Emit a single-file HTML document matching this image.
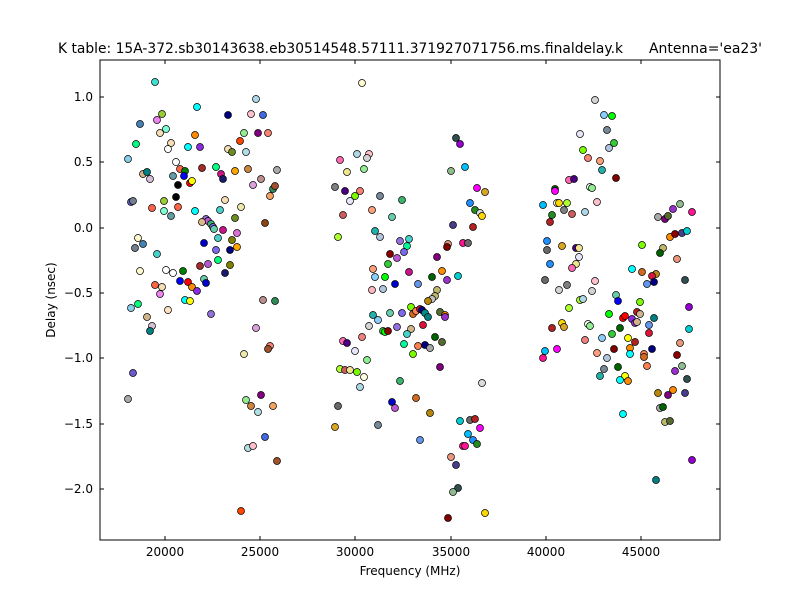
<!DOCTYPE html>
<html><head><meta charset="utf-8"><style>
html,body{margin:0;padding:0;background:#fff;}
svg{display:block;font-family:"DejaVu Sans","Liberation Sans",sans-serif;}
</style></head><body>
<svg id="s" width="800" height="600" xmlns="http://www.w3.org/2000/svg">
<rect width="800" height="600" fill="#fff"/>
<g id="pts"></g>
<rect x="100" y="60" width="620" height="480" fill="none" stroke="#000" stroke-width="1"/>
<g stroke="#000" stroke-width="1" id="ticks"></g>
<g font-size="12" fill="#000">
<text x="165" y="556" text-anchor="middle">20000</text>
<text x="260" y="556" text-anchor="middle">25000</text>
<text x="355" y="556" text-anchor="middle">30000</text>
<text x="451" y="556" text-anchor="middle">35000</text>
<text x="546" y="556" text-anchor="middle">40000</text>
<text x="641" y="556" text-anchor="middle">45000</text>
<text x="93" y="101" text-anchor="end">1.0</text>
<text x="93" y="166" text-anchor="end">0.5</text>
<text x="93" y="232" text-anchor="end">0.0</text>
<text x="93" y="297" text-anchor="end">−0.5</text>
<text x="93" y="362" text-anchor="end">−1.0</text>
<text x="93" y="428" text-anchor="end">−1.5</text>
<text x="93" y="493" text-anchor="end">−2.0</text>
<text x="410" y="575" text-anchor="middle">Frequency (MHz)</text>
<text transform="translate(55,300) rotate(-90)" text-anchor="middle">Delay (nsec)</text>
</g>
<text x="58" y="53" font-size="14" textLength="565" lengthAdjust="spacingAndGlyphs">K table: 15A-372.sb30143638.eb30514548.57111.371927071756.ms.finaldelay.k</text>
<text x="649" y="53" font-size="14" textLength="113" lengthAdjust="spacingAndGlyphs">Antenna='ea23'</text>
</svg>
<script>
var P=[
[155,82,"turquoise"],[197,107,"cyan"],[162,114,"yellowgreen"],[157,120,"violet"],[140,124,"steelblue"],[166,129,"aquamarine"],[160,133,"wheat"],[136,144,"springgreen"],[171,143,"wheat"],[168,149,"white"],[188,147,"cyan"],[200,147,"blueviolet"],[195,135,"darkorange"],[228,115,"navy"],[256,99,"lightblue"],[251,114,"pink"],[263,115,"royalblue"],[244,133,"lightgreen"],[258,133,"purple"],[268,133,"salmon"],[240,141,"orangered"],[228,149,"wheat"],[232,152,"olivedrab"],[246,152,"powderblue"],[128,159,"skyblue"],[176,162,"white"],[180,169,"tomato"],[185,171,"green"],[202,168,"brown"],[216,167,"springgreen"],[221,174,"mediumvioletred"],[223,179,"midnightblue"],[235,171,"orange"],[248,169,"peru"],[277,170,"darkgray"],[261,179,"rosybrown"],[253,185,"plum"],[273,189,"seagreen"],[275,186,"sienna"],[270,196,"sandybrown"],[143,174,"tan"],[147,172,"teal"],[150,179,"thistle"],[173,176,"cadetblue"],[184,176,"blue"],[190,183,"red"],[192,181,"yellow"],[178,185,"black"],[176,197,"black"],[178,207,"tomato"],[131,202,"slateblue"],[133,201,"slategray"],[152,208,"tomato"],[164,201,"yellowgreen"],[164,211,"aquamarine"],[171,216,"cadetblue"],[195,211,"cyan"],[220,210,"mediumturquoise"],[225,200,"wheat"],[241,207,"palegoldenrod"],[235,218,"olivedrab"],[265,223,"saddlebrown"],[206,219,"mediumpurple"],[208,221,"mediumorchid"],[202,222,"burlywood"],[211,224,"mediumseagreen"],[213,227,"mediumslateblue"],[214,229,"mediumaquamarine"],[223,230,"mediumvioletred"],[237,233,"orchid"],[218,238,"mediumturquoise"],[232,240,"olive"],[230,250,"navy"],[237,247,"orange"],[204,243,"mediumblue"],[216,250,"mediumslateblue"],[138,238,"lemonchiffon"],[143,244,"steelblue"],[135,248,"slategray"],[157,254,"mediumturquoise"],[140,271,"lemonchiffon"],[166,270,"white"],[173,273,"white"],[183,271,"green"],[200,266,"brown"],[208,264,"mediumorchid"],[218,260,"springgreen"],[230,265,"olive"],[225,273,"midnightblue"],[155,285,"tomato"],[162,287,"wheat"],[160,294,"violet"],[180,281,"blue"],[188,282,"red"],[192,287,"darkorange"],[197,291,"blueviolet"],[204,279,"mediumaquamarine"],[206,283,"mediumblue"],[185,300,"cyan"],[190,301,"yellow"],[131,308,"skyblue"],[138,304,"springgreen"],[168,310,"bisque"],[147,317,"tan"],[152,326,"thistle"],[150,331,"teal"],[211,314,"mediumpurple"],[263,300,"rosybrown"],[275,301,"seagreen"],[256,328,"plum"],[270,346,"salmon"],[268,349,"sienna"],[244,354,"palegoldenrod"],[133,373,"slateblue"],[128,399,"darkgray"],[261,395,"purple"],[246,400,"lightgreen"],[251,406,"peru"],[258,412,"powderblue"],[273,406,"sandybrown"],[265,437,"royalblue"],[248,448,"powderblue"],[253,446,"pink"],[277,461,"sienna"],[241,511,"orangered"],
[362,83,"lemonchiffon"],[456,138,"darkslategray"],[460,144,"darkviolet"],[340,160,"hotpink"],[357,154,"lightblue"],[369,154,"pink"],[367,158,"lightgray"],[347,172,"khaki"],[364,169,"lightgreen"],[451,171,"darkseagreen"],[465,167,"deepskyblue"],[335,187,"gray"],[345,191,"indigo"],[360,191,"salmon"],[355,196,"lawngreen"],[350,201,"lavender"],[380,196,"lightslategray"],[402,200,"mediumseagreen"],[477,188,"magenta"],[485,192,"goldenrod"],[343,215,"indianred"],[372,210,"lightsalmon"],[392,217,"mediumaquamarine"],[470,203,"dodgerblue"],[475,210,"forestgreen"],[480,213,"gainsboro"],[482,216,"gold"],[338,237,"greenyellow"],[375,231,"lightseagreen"],[380,237,"lightsteelblue"],[453,225,"darkslateblue"],[473,227,"firebrick"],[400,241,"mediumpurple"],[409,239,"mediumturquoise"],[407,246,"mediumspringgreen"],[404,252,"mediumslateblue"],[397,258,"mediumorchid"],[390,254,"darkred"],[388,264,"limegreen"],[437,257,"purple"],[448,244,"darksalmon"],[447,247,"maroon"],[463,243,"deeppink"],[468,243,"dimgray"],[373,269,"lightsalmon"],[375,277,"lightskyblue"],[385,277,"lime"],[395,284,"mediumblue"],[409,272,"mediumvioletred"],[418,284,"cornflowerblue"],[432,277,"darkgreen"],[442,271,"darkorange"],[447,280,"darkorchid"],[458,276,"darkturquoise"],[372,290,"lightpink"],[383,289,"lightsteelblue"],[437,290,"darkkhaki"],[435,296,"darkkhaki"],[432,299,"silver"],[428,301,"darkgoldenrod"],[411,307,"lawngreen"],[413,314,"chocolate"],[416,311,"coral"],[420,309,"crimson"],[422,310,"navy"],[425,313,"darkcyan"],[428,317,"teal"],[440,312,"darkolivegreen"],[445,315,"darkorange"],[445,317,"darkorchid"],[373,315,"lightseagreen"],[378,320,"lightskyblue"],[390,313,"mediumaquamarine"],[402,313,"mediumslateblue"],[369,326,"lightgray"],[383,331,"limegreen"],[385,332,"lime"],[388,331,"darkred"],[397,327,"mediumpurple"],[411,329,"tan"],[407,334,"mediumturquoise"],[423,325,"crimson"],[435,337,"darkgreen"],[442,342,"darkolivegreen"],[343,341,"hotpink"],[347,343,"indigo"],[362,337,"lightcoral"],[355,351,"lavender"],[367,360,"lightgreen"],[404,344,"mediumspringgreen"],[418,346,"coral"],[425,345,"navy"],[430,348,"darkgray"],[413,354,"lawngreen"],[440,367,"purple"],[340,369,"greenyellow"],[345,370,"indianred"],[350,370,"khaki"],[357,372,"lawngreen"],[364,377,"lightyellow"],[360,387,"lightblue"],[400,381,"mediumseagreen"],[482,383,"gainsboro"],[338,406,"dimgray"],[335,427,"goldenrod"],[378,425,"lightslategray"],[392,402,"mediumblue"],[395,408,"mediumorchid"],[416,398,"chocolate"],[430,413,"darkgoldenrod"],[420,440,"cornflowerblue"],[460,421,"darkturquoise"],[470,420,"dimgray"],[475,419,"firebrick"],[480,428,"magenta"],[468,434,"deepskyblue"],[473,440,"dodgerblue"],[477,444,"forestgreen"],[463,446,"deeppink"],[465,446,"deeppink"],[451,457,"darksalmon"],[456,465,"darkslateblue"],[458,488,"darkslategray"],[453,492,"darkseagreen"],[485,513,"gold"],[448,518,"maroon"],
[595,100,"lightgray"],[604,115,"lightskyblue"],[612,116,"lime"],[580,134,"lavender"],[607,130,"lightslategray"],[614,143,"limegreen"],[609,148,"lightsteelblue"],[583,150,"lawngreen"],[588,158,"salmon"],[600,161,"lightsalmon"],[602,170,"lightseagreen"],[616,178,"maroon"],[569,180,"hotpink"],[574,179,"indigo"],[555,189,"darkgreen"],[555,191,"magenta"],[590,187,"honeydew"],[592,188,"lightgreen"],[543,205,"deepskyblue"],[557,203,"lemonchiffon"],[559,203,"gold"],[567,203,"greenyellow"],[597,202,"pink"],[552,215,"forestgreen"],[564,210,"gray"],[572,214,"indianred"],[585,212,"lightblue"],[550,222,"firebrick"],[658,217,"darkgray"],[673,209,"darkorchid"],[680,204,"darkseagreen"],[692,212,"deeppink"],[665,219,"purple"],[668,216,"darkolivegreen"],[670,237,"darkorange"],[675,234,"darkred"],[682,233,"darkslateblue"],[687,231,"darkturquoise"],[642,245,"lawngreen"],[663,248,"darkkhaki"],[660,253,"darkgreen"],[677,259,"darksalmon"],[547,241,"dodgerblue"],[547,250,"dimgray"],[562,246,"goldenrod"],[576,248,"indigo"],[579,248,"khaki"],[579,257,"lavender"],[576,264,"khaki"],[572,268,"hotpink"],[550,264,"dodgerblue"],[545,280,"dimgray"],[559,290,"lightgray"],[567,285,"gray"],[595,281,"pink"],[592,291,"lightgray"],[632,269,"cyan"],[642,272,"chocolate"],[656,274,"darkgoldenrod"],[652,276,"crimson"],[647,284,"cornflowerblue"],[654,282,"navy"],[685,280,"darkslategray"],[616,295,"mediumaquamarine"],[618,301,"blue"],[640,302,"lawngreen"],[580,300,"greenyellow"],[583,299,"lightblue"],[569,308,"greenyellow"],[689,307,"darkviolet"],[609,314,"lime"],[623,318,"red"],[625,316,"red"],[637,312,"firebrick"],[640,314,"tan"],[632,319,"blueviolet"],[635,323,"darkorchid"],[637,322,"tan"],[654,318,"teal"],[562,323,"gold"],[564,327,"goldenrod"],[552,328,"firebrick"],[588,324,"honeydew"],[590,326,"lightgreen"],[620,328,"darkgreen"],[612,334,"limegreen"],[602,338,"lightskyblue"],[585,340,"lightcoral"],[628,338,"yellow"],[635,342,"firebrick"],[649,325,"cornflowerblue"],[649,333,"crimson"],[689,329,"darkturquoise"],[680,343,"darksalmon"],[614,349,"maroon"],[630,348,"darkorange"],[630,354,"cyan"],[644,354,"coral"],[644,357,"chocolate"],[652,349,"navy"],[677,355,"darkred"],[597,353,"lightsalmon"],[607,358,"lightsteelblue"],[545,351,"deepskyblue"],[543,358,"deeppink"],[557,349,"magenta"],[647,366,"coral"],[682,366,"darkseagreen"],[675,371,"darkorchid"],[687,379,"darkslategray"],[604,369,"lightslategray"],[600,376,"lightseagreen"],[618,367,"darkgreen"],[625,376,"yellow"],[620,380,"cyan"],[628,381,"darkorange"],[658,393,"darkgoldenrod"],[673,390,"darkorange"],[668,395,"purple"],[685,393,"darkslateblue"],[660,408,"darkgray"],[663,407,"darkgreen"],[665,422,"darkkhaki"],[670,421,"darkolivegreen"],[623,414,"cyan"],[692,460,"darkviolet"],[656,480,"teal"]
];
var ns="http://www.w3.org/2000/svg",g=document.getElementById("pts");
P.forEach(function(p){var c=document.createElementNS(ns,"circle");c.setAttribute("cx",p[0]);c.setAttribute("cy",p[1]);c.setAttribute("r",3.5);c.setAttribute("fill",p[2]);c.setAttribute("stroke","#000");c.setAttribute("stroke-width",0.7);g.appendChild(c);});
var t=document.getElementById("ticks"),h="";
[165,260,355,451,546,641].forEach(function(x){h+='<line x1="'+x+'" y1="540" x2="'+x+'" y2="536"/><line x1="'+x+'" y1="60" x2="'+x+'" y2="64"/>';});
[97,162,228,293,358,424,489].forEach(function(y){h+='<line x1="100" y1="'+y+'" x2="104" y2="'+y+'"/><line x1="720" y1="'+y+'" x2="716" y2="'+y+'"/>';});
t.innerHTML=h;
</script>
</body></html>
